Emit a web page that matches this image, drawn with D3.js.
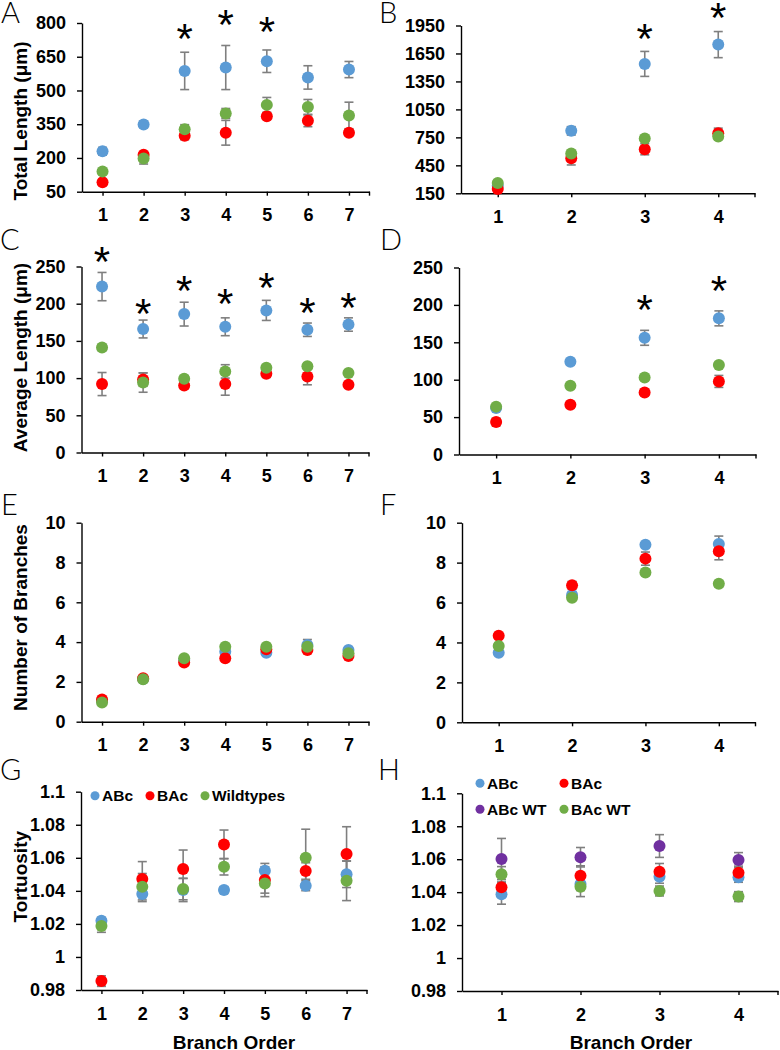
<!DOCTYPE html>
<html><head><meta charset="utf-8">
<script src="https://cdn.jsdelivr.net/npm/d3@7"></script>
<style>
body{margin:0;background:#fff}
svg{display:block}
text{font-family:"Liberation Sans",Arial,sans-serif}
</style>
</head><body>
<svg id="chart" width="780" height="1050"></svg>
<script>
// ---------- categories ----------
const orders7 = [1, 2, 3, 4, 5, 6, 7];
const orders4 = [1, 2, 3, 4];
const names3 = ["ABc", "BAc", "Wildtypes"];
const names4 = ["ABc", "BAc", "ABc WT", "BAc WT"];

// ---------- tick labels ----------
const ticksTotal7 = [50, 200, 350, 500, 650, 800];
const ticksTotal4 = [150, 450, 750, 1050, 1350, 1650, 1950];
const ticksAvg = [0, 50, 100, 150, 200, 250];
const ticksNum = [0, 2, 4, 6, 8, 10];
const ticksTort = [0.98, 1, 1.02, 1.04, 1.06, 1.08, 1.1];

// ---------- A: total length (7 orders) ----------
const totA_ABc = [230, 349, 587, 602, 630, 558, 593];
const totA_ABcErr = [17, 14, 83, 98, 50, 52, 36];
const totA_BAc = [92, 214, 299, 312, 385, 365, 312];
const totA_BAcErr = [6, 8, 18, 55, 10, 26, 12];
const totA_WT = [140, 198, 328, 398, 436, 427, 389];
const totA_WTErr = [8, 25, 20, 22, 33, 33, 59];
const starA_orders = [3, 4, 5];
const starA_y = [773, 836, 804];

// ---------- B: total length (4 orders) ----------
const totB_ABc = [230, 820, 1538, 1745];
const totB_ABcErr = [15, 45, 134, 140];
const totB_BAc = [196, 526, 623, 795];
const totB_BAcErr = [15, 72, 60, 54];
const totB_WT = [261, 576, 737, 759];
const totB_WTErr = [12, 20, 20, 20];
const starB_orders = [3, 4];
const starB_y = [1909, 2135];

// ---------- C: average length (7 orders) ----------
const avgC_ABc = [223, 166, 186, 169, 191, 165, 172];
const avgC_ABcErr = [19, 12, 16, 12, 13.5, 9, 9];
const avgC_BAc = [92, 98, 90, 92, 106, 102, 91];
const avgC_BAcErr = [15.5, 9, 4, 15, 5, 11, 3];
const avgC_WT = [141, 94, 99, 109, 114, 116, 107];
const avgC_WTErr = [4, 13, 4, 9, 4, 3, 3];
const starC_orders = [1, 2, 3, 4, 5, 6, 7];
const starC_y = [270, 199, 230.5, 212.6, 235, 200.5, 207];

// ---------- D: average length (4 orders) ----------
const avgD_ABc = [62, 124, 156, 182];
const avgD_ABcErr = [3, 4, 10, 10];
const avgD_BAc = [43.5, 66.6, 83, 97.7];
const avgD_BAcErr = [5, 4, 4, 8];
const avgD_WT = [64, 92, 103, 119.5];
const avgD_WTErr = [2, 2, 2, 2];
const starD_orders = [3, 4];
const starD_y = [206.5, 232];

// ---------- E: number of branches (7 orders) ----------
const numE_ABc = [1.05, 2.15, 3.1, 3.52, 3.47, 3.85, 3.6];
const numE_ABcErr = [0.05, 0.05, 0.1, 0.1, 0.1, 0.28, 0.1];
const numE_BAc = [1.12, 2.18, 2.98, 3.19, 3.64, 3.6, 3.3];
const numE_BAcErr = [0.05, 0.05, 0.08, 0.08, 0.1, 0.1, 0.08];
const numE_WT = [0.97, 2.13, 3.19, 3.77, 3.77, 3.77, 3.44];
const numE_WTErr = [0.04, 0.05, 0.06, 0.08, 0.08, 0.1, 0.08];

// ---------- F: number of branches (4 orders) ----------
const numF_ABc = [3.49, 6.38, 8.9, 8.93];
const numF_ABcErr = [0.1, 0.15, 0.1, 0.4];
const numF_BAc = [4.34, 6.86, 8.2, 8.57];
const numF_BAcErr = [0.1, 0.2, 0.33, 0.43];
const numF_WT = [3.82, 6.24, 7.5, 6.94];
const numF_WTErr = [0.1, 0.1, 0.1, 0.15];

// ---------- G: tortuosity (7 orders) ----------
const torG_ABc = [1.0219, 1.0381, 1.0405, 1.0405, 1.0522, 1.0431, 1.050];
const torG_ABcErr = [0.002, 0.0046, 0.007, 0.002, 0.0044, 0.003, 0.008];
const torG_BAc = [0.9854, 1.0472, 1.0532, 1.0681, 1.0466, 1.052, 1.0623];
const torG_BAcErr = [0.0032, 0.0105, 0.0115, 0.0087, 0.008, 0.005, 0.0165];
const torG_WT = [1.0187, 1.0425, 1.0411, 1.0546, 1.0445, 1.060, 1.0461];
const torG_WTErr = [0.0038, 0.008, 0.0065, 0.005, 0.008, 0.0173, 0.012];

// ---------- H: tortuosity (4 orders) ----------
const torH_ABc = [1.0387, 1.045, 1.0494, 1.049];
const torH_ABcErr = [0.006, 0.004, 0.004, 0.003];
const torH_BAc = [1.043, 1.050, 1.0524, 1.0518];
const torH_BAcErr = [0.003, 0.006, 0.005, 0.004];
const torH_ABcWT = [1.0601, 1.0612, 1.068, 1.0595];
const torH_ABcWTErr = [0.0125, 0.0059, 0.0069, 0.0045];
const torH_BAcWT = [1.0508, 1.0433, 1.0407, 1.0373];
const torH_BAcWTErr = [0.0047, 0.006, 0.003, 0.003];

// ---------- styles ----------
const BLUE = "#5B9BD5", RED = "#FF0000", GREEN = "#70AD47", PURPLE = "#7030A0";
const colors3 = [BLUE, RED, GREEN];
const colors4 = [BLUE, RED, PURPLE, GREEN];
const ERR = "#7F7F7F";

const svg = d3.select("#chart");
svg.append("rect").attr("width", 780).attr("height", 1050).attr("fill", "#fff");

function drawPanel(p) {
  const g = svg.append("g");
  const x = d3.scalePoint().domain(p.cats).range([p.x0, p.x1]).padding(0.5);
  const y = d3.scaleLinear().domain([p.ticks[0], p.ticks[p.ticks.length - 1]]).range([p.yBot, p.yTop]);

  // y axis
  const ya = g.append("g").attr("transform", `translate(${p.x0},0)`)
    .call(d3.axisLeft(y).tickValues(p.ticks).tickSize(5).tickSizeOuter(0).tickPadding(11).tickFormat(d => String(d)));
  // x axis
  const xa = g.append("g").attr("transform", `translate(0,${p.yBot})`)
    .call(d3.axisBottom(x).tickSize(4).tickSizeOuter(0).tickPadding(13));
  [ya, xa].forEach(a => {
    a.attr("font-family", null).attr("font-size", null);
    a.select(".domain").attr("stroke", "#000").attr("stroke-width", 1.4);
    a.selectAll(".tick line").attr("stroke", "#000").attr("stroke-width", 1.4);
    a.selectAll(".tick text").attr("fill", "#000").attr("font-size", 18).attr("font-weight", "bold");
  });
  // end tick at right of x axis
  g.append("line").attr("x1", p.x1).attr("x2", p.x1).attr("y1", p.yBot).attr("y2", p.yBot + 4)
    .attr("stroke", "#000").attr("stroke-width", 1.4);

  // error bars
  p.series.forEach((s, si) => {
    const eg = g.append("g").attr("stroke", ERR).attr("stroke-width", 1.6);
    s.values.forEach((v, i) => {
      const cx = x(p.cats[i]), e = s.errs[i];
      const yt = y(v + e), yb = y(v - e);
      eg.append("line").attr("x1", cx).attr("x2", cx).attr("y1", yt).attr("y2", yb);
      eg.append("line").attr("x1", cx - 4.5).attr("x2", cx + 4.5).attr("y1", yt).attr("y2", yt);
      eg.append("line").attr("x1", cx - 4.5).attr("x2", cx + 4.5).attr("y1", yb).attr("y2", yb);
    });
  });
  // dots
  p.series.forEach((s, si) => {
    g.append("g").selectAll("circle").data(s.values).join("circle")
      .attr("cx", (d, i) => x(p.cats[i])).attr("cy", d => y(d)).attr("r", 6)
      .attr("fill", s.color);
  });
  // asterisks
  if (p.stars) {
    g.append("g").selectAll("text").data(p.stars.orders).join("text")
      .attr("x", d => x(d)).attr("y", (d, i) => y(p.stars.y[i]) + 24)
      .attr("text-anchor", "middle").attr("font-size", 42).attr("fill", "#000").text("*");
  }
  // panel letter
  svg.append("text").attr("x", p.lx).attr("y", p.ly).attr("font-size", 29)
    .attr("font-weight", 300).style("font-family", "Lato, 'Open Sans', sans-serif")
    .attr("fill", "#000").text(p.letter);
  // y title
  if (p.ytitle) {
    svg.append("text").attr("transform", `translate(27,${p.ytitleY}) rotate(-90)`)
      .attr("text-anchor", "middle").attr("font-size", 19).attr("font-weight", "bold")
      .attr("fill", "#000").text(p.ytitle);
  }
  if (p.xtitleX) {
    svg.append("text").attr("x", p.xtitleX).attr("y", 1049)
      .attr("text-anchor", "middle").attr("font-size", 19).attr("font-weight", "bold")
      .attr("fill", "#000").text("Branch Order");
  }
  return { x, y };
}

function mk(names, colors, vals, errs) {
  return vals.map((v, i) => ({ name: names[i], color: colors[i], values: v, errs: errs[i] }));
}

drawPanel({ letter: "A", lx: 1, ly: 23, cats: orders7, x0: 82, x1: 369.5, yTop: 23, yBot: 191.7, ticks: ticksTotal7,
  series: mk(names3, colors3, [totA_ABc, totA_BAc, totA_WT], [totA_ABcErr, totA_BAcErr, totA_WTErr]),
  stars: { orders: starA_orders, y: starA_y }, ytitle: "Total Length (μm)", ytitleY: 121 });
drawPanel({ letter: "B", lx: 379, ly: 23, cats: orders4, x0: 461, x1: 755, yTop: 25.5, yBot: 193.3, ticks: ticksTotal4,
  series: mk(names3, colors3, [totB_ABc, totB_BAc, totB_WT], [totB_ABcErr, totB_BAcErr, totB_WTErr]),
  stars: { orders: starB_orders, y: starB_y } });
drawPanel({ letter: "C", lx: 0, ly: 250, cats: orders7, x0: 81.5, x1: 369, yTop: 266.5, yBot: 452.5, ticks: ticksAvg,
  series: mk(names3, colors3, [avgC_ABc, avgC_BAc, avgC_WT], [avgC_ABcErr, avgC_BAcErr, avgC_WTErr]),
  stars: { orders: starC_orders, y: starC_y }, ytitle: "Average Length (μm)", ytitleY: 357.5 });
drawPanel({ letter: "D", lx: 380, ly: 250, cats: orders4, x0: 459, x1: 756, yTop: 267.5, yBot: 454.5, ticks: ticksAvg,
  series: mk(names3, colors3, [avgD_ABc, avgD_BAc, avgD_WT], [avgD_ABcErr, avgD_BAcErr, avgD_WTErr]),
  stars: { orders: starD_orders, y: starD_y } });
drawPanel({ letter: "E", lx: 1, ly: 515, cats: orders7, x0: 81.5, x1: 369, yTop: 522.7, yBot: 721.7, ticks: ticksNum,
  series: mk(names3, colors3, [numE_ABc, numE_BAc, numE_WT], [numE_ABcErr, numE_BAcErr, numE_WTErr]),
  ytitle: "Number of Branches", ytitleY: 617.5 });
drawPanel({ letter: "F", lx: 380, ly: 515, cats: orders4, x0: 462, x1: 755.5, yTop: 522.7, yBot: 722.3, ticks: ticksNum,
  series: mk(names3, colors3, [numF_ABc, numF_BAc, numF_WT], [numF_ABcErr, numF_BAcErr, numF_WTErr]) });
drawPanel({ letter: "G", lx: 0, ly: 780, cats: orders7, x0: 81, x1: 367, yTop: 791.7, yBot: 990, ticks: ticksTort,
  series: mk(names3, colors3, [torG_ABc, torG_BAc, torG_WT], [torG_ABcErr, torG_BAcErr, torG_WTErr]),
  ytitle: "Tortuosity", ytitleY: 876.7, xtitleX: 234 });
drawPanel({ letter: "H", lx: 378, ly: 780, cats: orders4, x0: 462, x1: 778, yTop: 793.3, yBot: 991, ticks: ticksTort,
  series: mk(names4, colors4, [torH_ABc, torH_BAc, torH_ABcWT, torH_BAcWT], [torH_ABcErr, torH_BAcErr, torH_ABcWTErr, torH_BAcWTErr]),
  xtitleX: 631 });

// legends
function legend(items) {
  const lg = svg.append("g");
  items.forEach(it => {
    lg.append("circle").attr("cx", it.cx).attr("cy", it.cy).attr("r", 4.5).attr("fill", it.color);
    lg.append("text").attr("x", it.cx + 7).attr("y", it.cy).attr("dy", "0.35em")
      .attr("font-size", 15.5).attr("font-weight", "bold").attr("fill", "#000").text(it.name);
  });
}
const legGPos = [[95, 795.7], [150, 795.7], [205, 795.7]];
legend(names3.map((n, i) => ({ name: n, color: colors3[i], cx: legGPos[i][0], cy: legGPos[i][1] })));
const legHPos = [[480, 783.3], [564, 783.3], [480, 809.3], [564, 809.3]];
legend(names4.map((n, i) => ({ name: n, color: colors4[i], cx: legHPos[i][0], cy: legHPos[i][1] })));
</script>
</body></html>
